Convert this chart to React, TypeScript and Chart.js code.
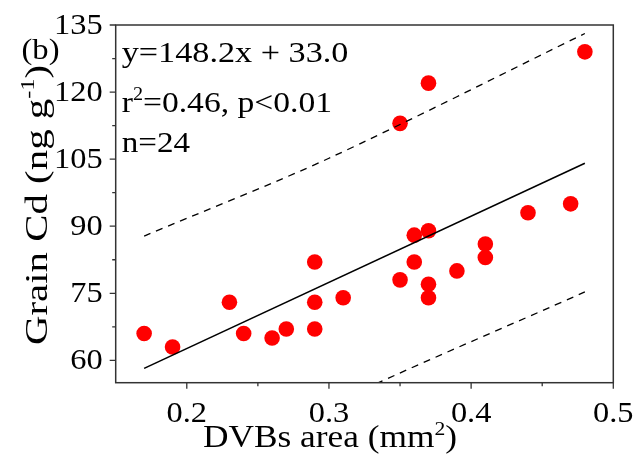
import React, { useEffect, useRef } from 'react';
import { Chart, registerables } from 'chart.js';

Chart.register(...registerables);

// ---- data ----
const xValues = [0.17, 0.19, 0.23, 0.24, 0.26, 0.27, 0.29, 0.29, 0.29, 0.31, 0.35, 0.35, 0.36, 0.36, 0.37, 0.37, 0.37, 0.37, 0.39, 0.41, 0.41, 0.44, 0.47, 0.48];
const yValues = [66, 63, 73, 66, 65, 67, 82, 73, 67, 74, 78, 113, 88, 82, 89, 77, 74, 122, 80, 86, 83, 93, 95, 129];

const fitX = [0.17, 0.48];
const fitY = [58.2, 104.1];
const bandX = [0.17, 0.30, 0.48];
const upperBand = [87.8, 105.2, 133.1];
const lowerBand = [28.6, 49.9, 75.3];

const xMajor = [0.2, 0.3, 0.4, 0.5];
const xMinor = [0.25, 0.35, 0.45];
const xTickLabels = ['0.2', '0.3', '0.4', '0.5'];
const yMajor = [60, 75, 90, 105, 120, 135];
const yMinor = [67.5, 82.5, 97.5, 112.5, 127.5];
const yTickLabels = ['60', '75', '90', '105', '120', '135'];

const annotationLines = ['y=148.2x + 33.0', 'r|2|=0.46, p<0.01', 'n=24'];
const panelLabel = '(b)';
const xTitle = 'DVBs area (mm|2|)';
const yTitle = 'Grain Cd (ng g|-1|)';

const FONT = '"Liberation Serif", "Times New Roman", Times, serif';

type Seg = { t: string; sup: boolean };
function parseRich(s: string): Seg[] {
  return s.split('|').map((t, i) => ({ t, sup: i % 2 === 1 })).filter((s) => s.t.length > 0);
}

function richWidth(ctx: CanvasRenderingContext2D, segs: Seg[], size: number) {
  let w = 0;
  for (const s of segs) {
    ctx.font = `${Math.round(s.sup ? size * 0.6 : size)}px ${FONT}`;
    w += ctx.measureText(s.t).width;
  }
  return w;
}

function drawRich(
  ctx: CanvasRenderingContext2D,
  text: string,
  x: number,
  y: number,
  size: number,
  opts: { sx?: number; target?: number; align?: 'left' | 'center' | 'right'; baseline?: CanvasTextBaseline; rot?: number } = {}
) {
  const segs = parseRich(text);
  const natural = richWidth(ctx, segs, size);
  const sx = opts.target ? opts.target / natural : opts.sx ?? 1;
  ctx.save();
  ctx.translate(x, y);
  if (opts.rot) ctx.rotate(opts.rot);
  ctx.scale(sx, 1);
  ctx.fillStyle = '#000';
  ctx.textAlign = 'left';
  ctx.textBaseline = opts.baseline ?? 'alphabetic';
  let cx = 0;
  if (opts.align === 'center') cx = -natural / 2;
  if (opts.align === 'right') cx = -natural;
  for (const s of segs) {
    const fs = Math.round(s.sup ? size * 0.6 : size);
    ctx.font = `${fs}px ${FONT}`;
    ctx.fillText(s.t, cx, s.sup ? -size * 0.4 : 0);
    cx += ctx.measureText(s.t).width;
  }
  ctx.restore();
}

const decorPlugin = {
  id: 'decor',
  afterDraw(chart: any) {
    const ctx: CanvasRenderingContext2D = chart.ctx;
    const { left, right, top, bottom } = chart.chartArea;
    const xs = chart.scales.x;
    const ys = chart.scales.y;
    ctx.save();
    ctx.strokeStyle = '#333';
    ctx.lineWidth = 1.5;
    ctx.strokeRect(left, top, right - left, bottom - top);
    ctx.lineWidth = 1.3;
    ctx.beginPath();
    xMajor.forEach((v) => {
      const p = xs.getPixelForValue(v);
      ctx.moveTo(p, bottom);
      ctx.lineTo(p, bottom + 6);
    });
    xMinor.forEach((v) => {
      const p = xs.getPixelForValue(v);
      ctx.moveTo(p, bottom);
      ctx.lineTo(p, bottom + 3.5);
    });
    yMajor.forEach((v) => {
      const p = ys.getPixelForValue(v);
      ctx.moveTo(left, p);
      ctx.lineTo(left - 6, p);
    });
    yMinor.forEach((v) => {
      const p = ys.getPixelForValue(v);
      ctx.moveTo(left, p);
      ctx.lineTo(left - 3.5, p);
    });
    ctx.stroke();
    ctx.restore();

    xMajor.forEach((v, i) => {
      drawRich(ctx, xTickLabels[i], xs.getPixelForValue(v), bottom + 39, 30, { sx: 1.08, align: 'center' });
    });
    yMajor.forEach((v, i) => {
      drawRich(ctx, yTickLabels[i], left - 13, ys.getPixelForValue(v) + 1, 30, { sx: 1.08, align: 'right', baseline: 'middle' });
    });

    drawRich(ctx, xTitle, 203, 447, 31, { target: 254 });
    drawRich(ctx, yTitle, 46.5, 345, 32, { target: 280, rot: -Math.PI / 2 });

    drawRich(ctx, panelLabel, 21.5, 59, 30, { target: 38 });

    const baselines = [61.7, 111.7, 151.7];
    const targets = [226.7, 0, 68.3];
    annotationLines.forEach((line, i) => {
      drawRich(ctx, line, left + 6, baselines[i], 30, targets[i] ? { target: targets[i] } : { sx: 1.12 });
    });
  },
};

export default function App() {
  const ref = useRef<HTMLCanvasElement>(null);
  useEffect(() => {
    const chart = new Chart(ref.current!, {
      type: 'scatter',
      data: {
        datasets: [
          {
            label: 'points',
            data: xValues.map((x, i) => ({ x, y: yValues[i] })),
            backgroundColor: '#ff0000',
            borderWidth: 0,
            pointRadius: 7.8,
            pointHoverRadius: 7.8,
            order: 2,
          },
          {
            label: 'fit',
            data: fitX.map((x, i) => ({ x, y: fitY[i] })),
            showLine: true,
            borderColor: '#000',
            borderWidth: 1.6,
            pointRadius: 0,
            order: 1,
          },
          {
            label: 'upper',
            data: bandX.map((x, i) => ({ x, y: upperBand[i] })),
            showLine: true,
            borderColor: '#000',
            borderWidth: 1.3,
            borderDash: [7, 6],
            pointRadius: 0,
            tension: 0.3,
            order: 1,
          },
          {
            label: 'lower',
            data: bandX.map((x, i) => ({ x, y: lowerBand[i] })),
            showLine: true,
            borderColor: '#000',
            borderWidth: 1.3,
            borderDash: [7, 6],
            pointRadius: 0,
            tension: 0.3,
            order: 1,
          },
        ],
      },
      options: {
        responsive: false,
        animation: false,
        devicePixelRatio: 1,
        layout: { padding: { top: 25, right: 26.7, left: 0, bottom: 0 } },
        plugins: {
          legend: { display: false },
          tooltip: { enabled: false },
        },
        scales: {
          x: {
            type: 'linear',
            min: 0.15,
            max: 0.5,
            grid: { display: false },
            border: { display: false },
            ticks: { display: false },
            afterFit: (s: any) => {
              s.height = 74.3;
            },
          },
          y: {
            type: 'linear',
            min: 55,
            max: 135,
            grid: { display: false },
            border: { display: false },
            ticks: { display: false },
            afterFit: (s: any) => {
              s.width = 115.7;
            },
          },
        },
      },
      plugins: [decorPlugin],
    } as any);
    return () => chart.destroy();
  }, []);
  return (
    <div style={{ position: 'absolute', left: 0, top: 0, width: 640, height: 457, background: '#fff' }}>
      <canvas ref={ref} width={640} height={457} style={{ width: 640, height: 457, display: 'block' }} />
    </div>
  );
}
